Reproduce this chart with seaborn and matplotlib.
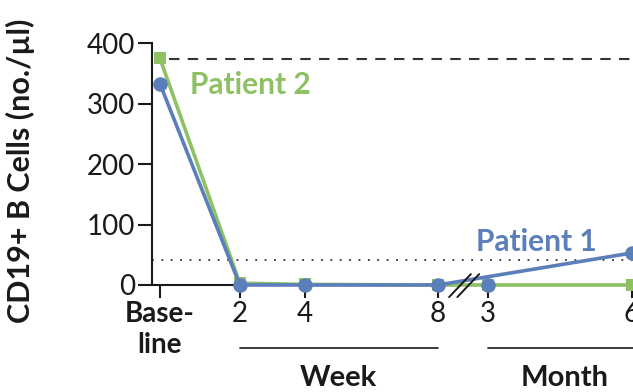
import matplotlib
matplotlib.use("Agg")
import matplotlib.pyplot as plt
import matplotlib.transforms as mtransforms
import pandas as pd
import seaborn as sns

# Visit schedule: baseline, weeks 2/4/8, months 3/6 (compressed time axis)
timepoints = ["Base-\nline", "2", "4", "8", "3", "6"]
x_pos = [0.0, 2.42, 4.39, 8.42, 9.94, 14.3]

# CD19+ B-cell counts (cells per microliter)
patient1 = [333, 0, 0, 0, 0, 53]
patient2 = [375, 3, 1, 0, 0, 0]
p1_line_idx = [0, 1, 2, 3, 5]   # month-3 value shown as a point only

upper_ref = 373
lower_ref = 41

blue = "#5A7FBA"
green = "#8DC163"
dark = "#1a1a1a"

sns.set_style("ticks")
plt.rcParams["font.family"] = ["Lato", "DejaVu Sans"]

fig = plt.figure(figsize=(6.33, 3.92), dpi=100)
ax = fig.add_axes([0.2401, 0.273, 0.7599, 0.617])

df2 = pd.DataFrame({"x": x_pos, "y": patient2})
df1_line = pd.DataFrame({"x": [x_pos[i] for i in p1_line_idx],
                         "y": [patient1[i] for i in p1_line_idx]})
df1_pts = pd.DataFrame({"x": x_pos, "y": patient1})

# reference limits
ax.axhline(upper_ref, color="#333333", lw=1.5, ls=(0, (5, 4)), zorder=1,
           xmin=0.035)
ax.axhline(lower_ref, color="#333333", lw=1.3, ls=(0, (1, 4.2)), zorder=1)

sns.lineplot(data=df2, x="x", y="y", ax=ax, color=green, lw=2.6,
             marker="s", markersize=8.5, markeredgewidth=0,
             clip_on=False, zorder=3, sort=False)
sns.lineplot(data=df1_line, x="x", y="y", ax=ax, color=blue, lw=2.6,
             clip_on=False, zorder=4, sort=False)
sns.lineplot(data=df1_pts, x="x", y="y", ax=ax, color=blue, lw=0,
             marker="o", markersize=10.5, markeredgewidth=0,
             clip_on=False, zorder=4, sort=False)

# axis break marks between week 8 and month 3
for dx in (0.0, 0.25):
    ax.plot([8.76 + dx, 9.42 + dx], [-20, 18], color=dark, lw=1.4,
            clip_on=False, zorder=6)

ax.set_xlim(-0.24, 14.33)
ax.set_ylim(0, 400)
ax.set_yticks([0, 100, 200, 300, 400])
ax.set_xticks(x_pos)
ax.set_xticklabels(timepoints)
ax.tick_params(axis="both", labelsize=20, colors=dark, width=1.5,
               length=10, pad=2)
ax.tick_params(axis="x", length=9.5, pad=2)
ax.get_xticklabels()[0].set_fontweight("bold")
ax.get_xticklabels()[0].set_linespacing(1.25)
for lab in ax.get_xticklabels() + ax.get_yticklabels():
    lab.set_color(dark)

sns.despine(ax=ax)
for s in ("left", "bottom"):
    ax.spines[s].set_linewidth(1.5)
    ax.spines[s].set_color(dark)
ax.set_xlabel("")
ax.set_ylabel("CD19+ B Cells (no./µl)", fontsize=22, fontweight="bold",
              color=dark)
ax.yaxis.set_label_coords(-0.243, 0.47)

ax.text(2.73, 331, "Patient 2", color=green, fontsize=21.5,
        fontweight="bold", ha="center", va="center")
ax.text(11.39, 71, "Patient 1", color=blue, fontsize=21.5,
        fontweight="bold", ha="center", va="center")

# time-unit group brackets under the tick labels
trans = mtransforms.blended_transform_factory(ax.transData, fig.transFigure)
ax.plot([x_pos[1], x_pos[3]], [0.112, 0.112], color=dark, lw=1.2,
        transform=trans, clip_on=False)
ax.plot([x_pos[4], 15.0], [0.112, 0.112], color=dark, lw=1.2,
        transform=trans, clip_on=False)
ax.text((x_pos[1] + x_pos[3]) / 2, 0.035, "Week", transform=trans,
        ha="center", va="center", fontsize=21, fontweight="bold", color=dark)
ax.text(12.27, 0.035, "Month", transform=trans,
        ha="center", va="center", fontsize=21, fontweight="bold", color=dark)

fig.savefig("out.png", dpi=100)
